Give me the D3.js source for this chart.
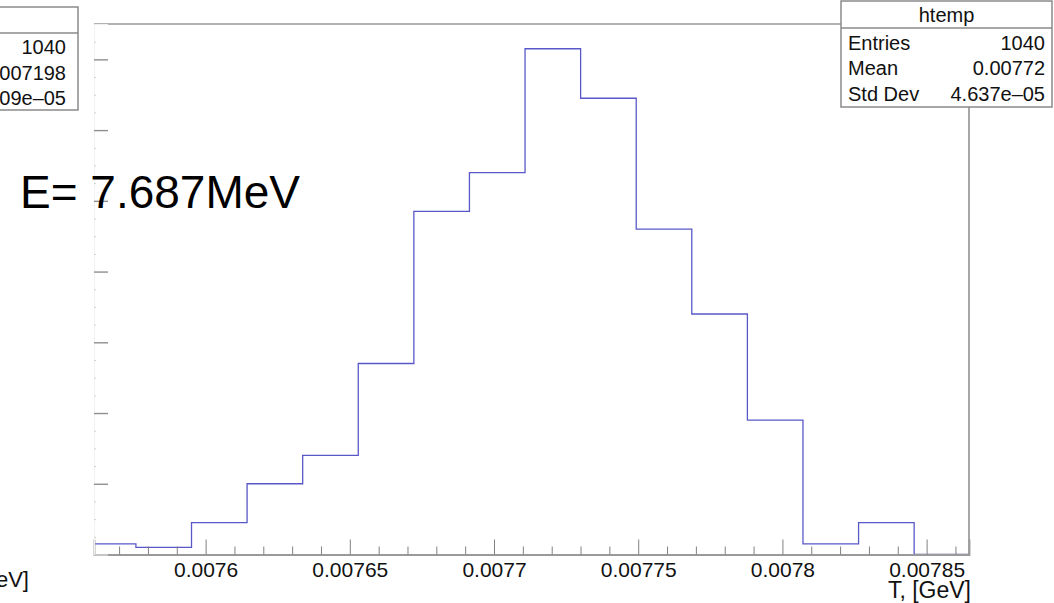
<!DOCTYPE html>
<html>
<head>
<meta charset="utf-8">
<script src="https://cdn.jsdelivr.net/npm/d3@7/dist/d3.min.js"></script>
<style>
  html, body { margin: 0; padding: 0; background: #fff; }
  svg { display: block; }
  text { font-family: "Liberation Sans", Arial, Helvetica, sans-serif; }
</style>
</head>
<body>
<svg id="chart" width="1054" height="603"></svg>
<script>
// Histogram of T (kinetic energy) — bin edges in GeV and counts per bin
const binEdges = [
  0.00755656, 0.00757583, 0.00759511, 0.00761438, 0.00763366, 0.00765293,
  0.00767221, 0.00769148, 0.00771076, 0.00773003, 0.00774931, 0.00776858,
  0.00778786, 0.00780713, 0.00782641, 0.00784568
];
const binCounts = [3, 2, 9, 20, 28, 54, 97, 108, 143, 129, 92, 68, 38, 3, 9];

// Axis ranges and ticks
const xDomain = [0.0075613, 0.0078647];
const yDomain = [0, 150];
const xMajorTicks = [0.0076, 0.00765, 0.0077, 0.00775, 0.0078, 0.00785];
const xTickLabels = ["0.0076", "0.00765", "0.0077", "0.00775", "0.0078", "0.00785"];
const xMinorTicks = [
  0.00757, 0.00758, 0.00759, 0.00761, 0.00762, 0.00763, 0.00764, 0.00766,
  0.00767, 0.00768, 0.00769, 0.00771, 0.00772, 0.00773, 0.00774, 0.00776,
  0.00777, 0.00778, 0.00779, 0.00781, 0.00782, 0.00783, 0.00784, 0.00786
];
const yMajorTicks = [20, 40, 60, 80, 100, 120, 140];
const yMinorTicks = [5, 10, 15, 25, 30, 35, 45, 50, 55, 65, 70, 75, 85, 90, 95,
                     105, 110, 115, 125, 130, 135, 145];

// Statistics boxes
const statsTitle = "htemp";
const statsLabels = ["Entries", "Mean", "Std Dev"];
const statsValues = ["1040", "0.00772", "4.637e\u201305"];
const sideStatsLabels = ["Entries", "Mean", "Std Dev"];
const sideStatsValues = ["1040", "0.007198", "4.609e\u201305"];

const energyNote = "E= 7.687MeV";
const xTitle = "T, [GeV]";

const svg = d3.select("#chart");
const frame = { left: 94, right: 969, top: 24, bottom: 554.5 };

const x = d3.scaleLinear().domain(xDomain).range([frame.left, frame.right]);
const y = d3.scaleLinear().domain(yDomain).range([frame.bottom, frame.top]);

svg.append("rect").attr("width", 1054).attr("height", 603).attr("fill", "#fff");

// frame: top and right edges
svg.append("line")
  .attr("x1", frame.left).attr("x2", frame.right)
  .attr("y1", frame.top).attr("y2", frame.top)
  .attr("stroke", "#9a9a9a").attr("stroke-width", 1.5);
svg.append("line")
  .attr("x1", frame.right).attr("x2", frame.right)
  .attr("y1", frame.top).attr("y2", frame.bottom)
  .attr("stroke", "#8a8a8a").attr("stroke-width", 1.5);

// histogram outline
svg.append("clipPath").attr("id", "frameClip")
  .append("rect")
  .attr("x", frame.left).attr("y", frame.top - 2)
  .attr("width", frame.right - frame.left).attr("height", frame.bottom - frame.top + 4);

const pts = binCounts.map((c, i) => [binEdges[i], c]);
pts.push([binEdges[binEdges.length - 1], binCounts[binCounts.length - 1]]);
pts.push([binEdges[binEdges.length - 1], 0]);
pts.push([xDomain[1], 0]);

const stepLine = d3.line()
  .x(d => x(d[0]))
  .y(d => y(d[1]))
  .curve(d3.curveStepAfter);

svg.append("path")
  .attr("clip-path", "url(#frameClip)")
  .attr("d", stepLine(pts))
  .attr("fill", "none")
  .attr("stroke", "#5858c8")
  .attr("stroke-width", 1.3);

// x axis: major ticks with labels, minor ticks
const xAxisG = svg.append("g").attr("transform", `translate(0,${frame.bottom})`);
xAxisG.call(d3.axisBottom(x)
  .tickValues(xMajorTicks)
  .tickSize(-15)
  .tickPadding(8)
  .tickFormat((d, i) => xTickLabels[i]));
xAxisG.select(".domain").attr("stroke", "#9a9a9a").attr("stroke-width", 1.8);
xAxisG.selectAll(".tick line").attr("stroke", "#808080");
xAxisG.selectAll(".tick text")
  .attr("fill", "#111").attr("font-size", 21)
  .attr("font-family", "'Liberation Sans', Arial, sans-serif");

const xMinorG = svg.append("g").attr("transform", `translate(0,${frame.bottom})`);
xMinorG.call(d3.axisBottom(x).tickValues(xMinorTicks).tickSize(-8).tickFormat(""));
xMinorG.select(".domain").remove();
xMinorG.selectAll(".tick line").attr("stroke", "#808080");

// y axis: ticks only, pointing into the frame
const yAxisG = svg.append("g").attr("transform", `translate(${frame.left},0)`);
yAxisG.call(d3.axisLeft(y).tickValues(yMajorTicks).tickSize(-14).tickFormat(""));
yAxisG.select(".domain").attr("stroke", "#f2f2f2").attr("stroke-width", 1);
yAxisG.selectAll(".tick line").attr("stroke", "#8f8f8f").attr("stroke-width", 1.4);

const yMinorG = svg.append("g").attr("transform", `translate(${frame.left},0)`);
yMinorG.call(d3.axisLeft(y).tickValues(yMinorTicks).tickSize(-2).tickFormat(""));
yMinorG.select(".domain").remove();
yMinorG.selectAll(".tick line").attr("stroke", "#d0d0d0");

// x axis title
svg.append("text")
  .attr("x", 971).attr("y", 598)
  .attr("text-anchor", "end")
  .attr("font-size", 23).attr("fill", "#111")
  .text(xTitle);

// neighbouring panel's axis title, partly off the left edge
svg.append("text")
  .attr("x", 29).attr("y", 587)
  .attr("text-anchor", "end")
  .attr("font-size", 22).attr("fill", "#111")
  .text(xTitle);

// energy annotation
svg.append("text")
  .attr("x", 20).attr("y", 208)
  .attr("font-size", 46).attr("fill", "#000")
  .text(energyNote);

// statistics box
function statsBox(g, x0, x1, yTop, ySep, yBot, title, labels, values, baseFirst, valueInset) {
  g.append("rect")
    .attr("x", x0).attr("y", yTop)
    .attr("width", x1 - x0).attr("height", yBot - yTop)
    .attr("fill", "#fff").attr("stroke", "#8a8a8a").attr("stroke-width", 1.5);
  g.append("line")
    .attr("x1", x0).attr("x2", x1).attr("y1", ySep).attr("y2", ySep)
    .attr("stroke", "#8a8a8a").attr("stroke-width", 1.5);
  g.append("text")
    .attr("x", (x0 + x1) / 2).attr("y", ySep - 6)
    .attr("text-anchor", "middle").attr("font-size", 20).attr("fill", "#111")
    .text(title);
  labels.forEach((lab, i) => {
    const by = baseFirst + i * 25.5;
    g.append("text").attr("x", x0 + 7).attr("y", by)
      .attr("font-size", 20).attr("fill", "#111").text(lab);
    g.append("text").attr("x", x1 - valueInset).attr("y", by)
      .attr("text-anchor", "end").attr("font-size", 20).attr("fill", "#111").text(values[i]);
  });
}

statsBox(svg.append("g"), 841, 1052, 1, 28, 107, statsTitle, statsLabels, statsValues, 49.5, 7);
statsBox(svg.append("g"), -135, 78, 7, 33, 110, statsTitle, sideStatsLabels, sideStatsValues, 54, 12);
</script>
</body>
</html>
